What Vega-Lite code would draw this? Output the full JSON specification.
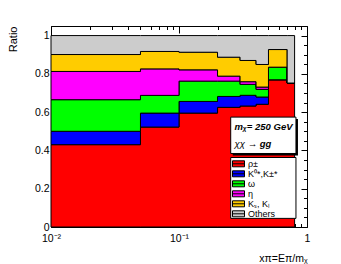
{
  "$schema": "https://vega.github.io/schema/vega-lite/v6.json",
  "width": 256,
  "height": 201,
  "autosize": {"type": "none"},
  "padding": {"left": 51, "top": 26, "right": 34, "bottom": 37},
  "config": {
    "view": {"stroke": "black", "strokeWidth": 1},
    "font": "Liberation Sans",
    "axis": {"grid": false, "labelColor": "black", "titleColor": "black", "tickColor": "black", "domain": false}
  },
  "data": {"values": [
    {"x": 0.01, "cat": "rho", "ord": 1, "v": 0.430},
    {"x": 0.01, "cat": "kstar", "ord": 2, "v": 0.070},
    {"x": 0.01, "cat": "omega", "ord": 3, "v": 0.165},
    {"x": 0.01, "cat": "eta", "ord": 4, "v": 0.1475},
    {"x": 0.01, "cat": "ks", "ord": 5, "v": 0.0885},
    {"x": 0.01, "cat": "others", "ord": 6, "v": 0.099},
    {"x": 0.05, "cat": "rho", "ord": 1, "v": 0.522},
    {"x": 0.05, "cat": "kstar", "ord": 2, "v": 0.073},
    {"x": 0.05, "cat": "omega", "ord": 3, "v": 0.0925},
    {"x": 0.05, "cat": "eta", "ord": 4, "v": 0.1385},
    {"x": 0.05, "cat": "ks", "ord": 5, "v": 0.091},
    {"x": 0.05, "cat": "others", "ord": 6, "v": 0.083},
    {"x": 0.1, "cat": "rho", "ord": 1, "v": 0.595},
    {"x": 0.1, "cat": "kstar", "ord": 2, "v": 0.061},
    {"x": 0.1, "cat": "omega", "ord": 3, "v": 0.106},
    {"x": 0.1, "cat": "eta", "ord": 4, "v": 0.059},
    {"x": 0.1, "cat": "ks", "ord": 5, "v": 0.092},
    {"x": 0.1, "cat": "others", "ord": 6, "v": 0.087},
    {"x": 0.2, "cat": "rho", "ord": 1, "v": 0.625},
    {"x": 0.2, "cat": "kstar", "ord": 2, "v": 0.057},
    {"x": 0.2, "cat": "omega", "ord": 3, "v": 0.080},
    {"x": 0.2, "cat": "eta", "ord": 4, "v": 0.026},
    {"x": 0.2, "cat": "ks", "ord": 5, "v": 0.099},
    {"x": 0.2, "cat": "others", "ord": 6, "v": 0.113},
    {"x": 0.3, "cat": "rho", "ord": 1, "v": 0.632},
    {"x": 0.3, "cat": "kstar", "ord": 2, "v": 0.056},
    {"x": 0.3, "cat": "omega", "ord": 3, "v": 0.057},
    {"x": 0.3, "cat": "eta", "ord": 4, "v": 0.014},
    {"x": 0.3, "cat": "ks", "ord": 5, "v": 0.111},
    {"x": 0.3, "cat": "others", "ord": 6, "v": 0.130},
    {"x": 0.4, "cat": "rho", "ord": 1, "v": 0.641},
    {"x": 0.4, "cat": "kstar", "ord": 2, "v": 0.038},
    {"x": 0.4, "cat": "omega", "ord": 3, "v": 0.040},
    {"x": 0.4, "cat": "eta", "ord": 4, "v": 0.012},
    {"x": 0.4, "cat": "ks", "ord": 5, "v": 0.118},
    {"x": 0.4, "cat": "others", "ord": 6, "v": 0.151},
    {"x": 0.5, "cat": "rho", "ord": 1, "v": 0.769},
    {"x": 0.5, "cat": "kstar", "ord": 2, "v": 0.0},
    {"x": 0.5, "cat": "omega", "ord": 3, "v": 0.066},
    {"x": 0.5, "cat": "eta", "ord": 4, "v": 0.0},
    {"x": 0.5, "cat": "ks", "ord": 5, "v": 0.092},
    {"x": 0.5, "cat": "others", "ord": 6, "v": 0.073},
    {"x": 0.7, "cat": "rho", "ord": 1, "v": 0.752},
    {"x": 0.7, "cat": "kstar", "ord": 2, "v": 0.0},
    {"x": 0.7, "cat": "omega", "ord": 3, "v": 0.0},
    {"x": 0.7, "cat": "eta", "ord": 4, "v": 0.0},
    {"x": 0.7, "cat": "ks", "ord": 5, "v": 0.0},
    {"x": 0.7, "cat": "others", "ord": 6, "v": 0.248},
    {"x": 0.8, "cat": "rho", "ord": 1, "v": 0.752},
    {"x": 0.8, "cat": "kstar", "ord": 2, "v": 0.0},
    {"x": 0.8, "cat": "omega", "ord": 3, "v": 0.0},
    {"x": 0.8, "cat": "eta", "ord": 4, "v": 0.0},
    {"x": 0.8, "cat": "ks", "ord": 5, "v": 0.0},
    {"x": 0.8, "cat": "others", "ord": 6, "v": 0.248}
  ]},
  "layer": [
    {
      "mark": {"type": "area", "interpolate": "step-after", "stroke": "black", "strokeWidth": 1, "opacity": 1, "fillOpacity": 1},
      "encoding": {
        "x": {"field": "x", "type": "quantitative",
          "scale": {"type": "log", "domain": [0.01, 1], "nice": false},
          "axis": {"orient": "bottom", "values": [0.01, 0.1, 1], "labelExpr": "datum.value == 1 ? '1' : (datum.value > 0.05 ? '10⁻¹' : '10⁻²')", "ticks": false, "labelFlush": false, "labelFontSize": 10.5, "labelPadding": 6.5, "title": "xπ=Eπ/mᵪ", "titleFontSize": 10.5, "titleFontWeight": "normal", "titleX": 256, "titleY": 31, "titleAlign": "right", "titleBaseline": "middle"}},
        "y": {"field": "v", "type": "quantitative", "stack": "zero",
          "scale": {"domain": [0, 1.05], "nice": false, "zero": true},
          "axis": {"orient": "left", "values": [0, 0.2, 0.4, 0.6, 0.8, 1], "labelExpr": "datum.value == 0 ? '0' : (datum.value == 1 ? '1' : format(datum.value, '.1f'))", "ticks": false, "labelFontSize": 10.5, "labelPadding": 2, "title": "Ratio", "titleFontSize": 11, "titleFontWeight": "normal", "titleX": -38, "titleY": 0, "titleAngle": 270, "titleAlign": "right", "titleBaseline": "middle"}},
        "color": {"field": "cat", "type": "nominal",
          "scale": {"domain": ["rho", "kstar", "omega", "eta", "ks", "others"], "range": ["#ff0000", "#0000ff", "#00ff00", "#ff00ff", "#ffcc00", "#cccccc"]},
          "legend": {"orient": "none", "legendX": 181, "legendY": 133, "title": null, "labelFontSize": 9, "labelColor": "black", "labelExpr": "{'rho': 'ρ±', 'kstar': 'K⁰*,K±*', 'omega': 'ω', 'eta': 'η', 'ks': 'Kₛ, Kₗ', 'others': 'Others'}[datum.value]", "symbolType": "M-1,-0.5H1V0.5H-1Z M-1,0H1", "symbolSize": 144, "symbolStrokeColor": "black", "symbolStrokeWidth": 1, "symbolOpacity": 1, "clipHeight": 9.6, "rowPadding": 0, "labelOffset": 3, "padding": 0}},
        "order": {"field": "ord", "type": "quantitative"}
      }
    },
    {
      "mark": {"type": "point", "opacity": 0},
      "encoding": {
        "x": {"field": "x", "type": "quantitative", "scale": {"type": "log", "domain": [0.01, 1], "nice": false},
          "axis": {"orient": "bottom", "values": [0.01, 0.1, 1], "labels": false, "tickSize": -7, "title": null}},
        "y": {"field": "v", "type": "quantitative", "scale": {"domain": [0, 1.05], "nice": false},
          "axis": {"orient": "left", "values": [0, 0.2, 0.4, 0.6, 0.8, 1], "labels": false, "tickSize": -6, "title": null}}
      }
    },
    {
      "mark": {"type": "point", "opacity": 0},
      "encoding": {
        "x": {"field": "x", "type": "quantitative", "scale": {"type": "log", "domain": [0.01, 1], "nice": false},
          "axis": {"orient": "bottom", "values": [0.02, 0.03, 0.04, 0.05, 0.06, 0.07, 0.08, 0.09, 0.2, 0.3, 0.4, 0.5, 0.6, 0.7, 0.8, 0.9], "labels": false, "tickSize": -3.5, "title": null}},
        "y": {"field": "v", "type": "quantitative", "scale": {"domain": [0, 1.05], "nice": false},
          "axis": {"orient": "left", "values": [0.05, 0.1, 0.15, 0.25, 0.3, 0.35, 0.45, 0.5, 0.55, 0.65, 0.7, 0.75, 0.85, 0.9, 0.95, 1.05], "labels": false, "tickSize": -3.5, "title": null}}
      }
    },
    {
      "mark": {"type": "point", "opacity": 0},
      "encoding": {
        "x": {"field": "x", "type": "quantitative", "scale": {"type": "log", "domain": [0.01, 1], "nice": false},
          "axis": {"orient": "top", "values": [0.01, 0.1, 1], "labels": false, "tickSize": -7, "title": null}},
        "y": {"field": "v", "type": "quantitative", "scale": {"domain": [0, 1.05], "nice": false},
          "axis": {"orient": "right", "values": [0, 0.2, 0.4, 0.6, 0.8, 1], "labels": false, "tickSize": -6, "title": null}}
      }
    },
    {
      "mark": {"type": "point", "opacity": 0},
      "encoding": {
        "x": {"field": "x", "type": "quantitative", "scale": {"type": "log", "domain": [0.01, 1], "nice": false},
          "axis": {"orient": "top", "values": [0.02, 0.03, 0.04, 0.05, 0.06, 0.07, 0.08, 0.09, 0.2, 0.3, 0.4, 0.5, 0.6, 0.7, 0.8, 0.9], "labels": false, "tickSize": -3.5, "title": null}},
        "y": {"field": "v", "type": "quantitative", "scale": {"domain": [0, 1.05], "nice": false},
          "axis": {"orient": "right", "values": [0.05, 0.1, 0.15, 0.25, 0.3, 0.35, 0.45, 0.5, 0.55, 0.65, 0.7, 0.75, 0.85, 0.9, 0.95, 1.05], "labels": false, "tickSize": -3.5, "title": null}}
      }
    },
    {
      "data": {"values": [{}]},
      "mark": {"type": "rect", "fill": "black", "xOffset": 2, "yOffset": 2, "x2Offset": 2, "y2Offset": 2},
      "encoding": {
        "x": {"datum": 0.2535, "type": "quantitative", "scale": {"type": "log", "domain": [0.01, 1], "nice": false}, "axis": null},
        "x2": {"datum": 0.82},
        "y": {"datum": 0.574, "type": "quantitative", "scale": {"domain": [0, 1.05], "nice": false}, "axis": null},
        "y2": {"datum": 0.384}
      }
    },
    {
      "data": {"values": [{}]},
      "mark": {"type": "rect", "fill": "white", "stroke": "black", "strokeWidth": 1},
      "encoding": {
        "x": {"datum": 0.2535, "type": "quantitative", "scale": {"type": "log", "domain": [0.01, 1], "nice": false}, "axis": null},
        "x2": {"datum": 0.82},
        "y": {"datum": 0.574, "type": "quantitative", "scale": {"domain": [0, 1.05], "nice": false}, "axis": null},
        "y2": {"datum": 0.384}
      }
    },
    {
      "data": {"values": [{}]},
      "mark": {"type": "rect", "fill": "white", "stroke": "black", "strokeWidth": 1},
      "encoding": {
        "x": {"datum": 0.2535, "type": "quantitative", "scale": {"type": "log", "domain": [0.01, 1], "nice": false}, "axis": null},
        "x2": {"datum": 0.82},
        "y": {"datum": 0.363, "type": "quantitative", "scale": {"domain": [0, 1.05], "nice": false}, "axis": null},
        "y2": {"datum": 0.045}
      }
    },
    {
      "data": {"values": [{}]},
      "mark": {"type": "text", "text": "mᵪ= 250 GeV", "fontSize": 9.5, "fontStyle": "italic", "fontWeight": "bold", "align": "left", "baseline": "middle", "color": "black"},
      "encoding": {
        "x": {"datum": 0.272, "type": "quantitative", "scale": {"type": "log", "domain": [0.01, 1], "nice": false}, "axis": null},
        "y": {"datum": 0.521, "type": "quantitative", "scale": {"domain": [0, 1.05], "nice": false}, "axis": null}
      }
    },
    {
      "data": {"values": [{}]},
      "mark": {"type": "text", "text": "χχ →", "fontSize": 9.5, "fontStyle": "italic", "align": "left", "baseline": "middle", "color": "black"},
      "encoding": {
        "x": {"datum": 0.272, "type": "quantitative", "scale": {"type": "log", "domain": [0.01, 1], "nice": false}, "axis": null},
        "y": {"datum": 0.436, "type": "quantitative", "scale": {"domain": [0, 1.05], "nice": false}, "axis": null}
      }
    },
    {
      "data": {"values": [{}]},
      "mark": {"type": "text", "text": "gg", "fontSize": 9.5, "fontStyle": "italic", "fontWeight": "bold", "align": "left", "baseline": "middle", "color": "black"},
      "encoding": {
        "x": {"datum": 0.4276, "type": "quantitative", "scale": {"type": "log", "domain": [0.01, 1], "nice": false}, "axis": null},
        "y": {"datum": 0.436, "type": "quantitative", "scale": {"domain": [0, 1.05], "nice": false}, "axis": null}
      }
    }
  ],
  "resolve": {"axis": {"x": "independent", "y": "independent"}}
}
